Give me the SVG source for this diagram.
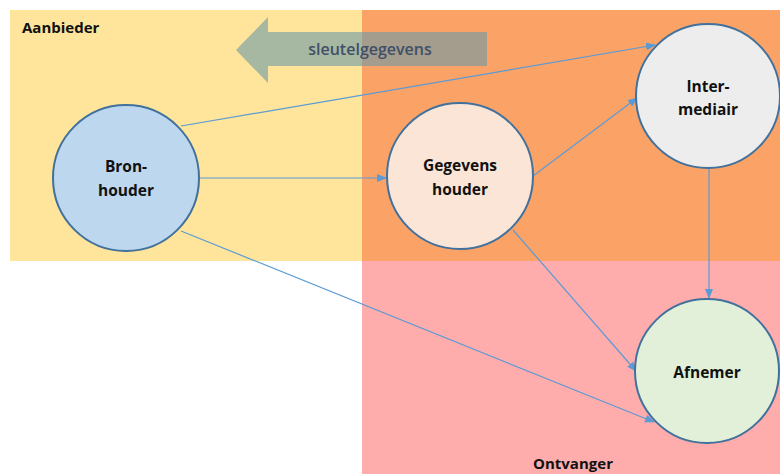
<svg xmlns="http://www.w3.org/2000/svg" width="780" height="474" viewBox="0 0 780 474">
<defs>
<marker id="ah" markerWidth="10" markerHeight="8" refX="9" refY="4" orient="auto" markerUnits="userSpaceOnUse">
<path d="M0,0 L10,4 L0,8 Z" fill="#5b9bd5"/>
</marker>
<style>
.node{stroke:#41719c;stroke-width:2}
.lbl{font-family:"Open Sans","Liberation Sans",sans-serif;font-weight:bold;font-size:15.5px;fill:#111;text-anchor:middle}
.conn{stroke:#5b9bd5;stroke-width:1.2;fill:none;marker-end:url(#ah)}
.zone{font-family:"Open Sans","Liberation Sans",sans-serif;font-weight:bold;font-size:15px;fill:#111}
</style>
</defs>
<rect width="780" height="474" fill="#ffffff"/>
<g id="zones">
<rect x="10" y="10" width="352" height="251" fill="#fee59b"/>
<rect x="362" y="10" width="418" height="251" fill="#fba267"/>
<rect x="362" y="261" width="418" height="213" fill="#feacac"/>
<text class="zone" x="22" y="33">Aanbieder</text>
<text class="zone" x="573" y="469" text-anchor="middle">Ontvanger</text>
</g>
<g id="sleutelgegevens">
<path d="M487,32 L268,32 L268,17 L236,50 L268,83 L268,66 L487,66 Z" fill="#6b98a6" fill-opacity="0.6"/>
<text x="370" y="55" text-anchor="middle" font-family="'Open Sans','Liberation Sans',sans-serif" font-size="16" font-weight="600" fill="#3f5068">sleutelgegevens</text>
</g>
<g id="connectors">
<line class="conn" x1="181" y1="126" x2="655" y2="45"/>
<line class="conn" x1="199" y1="178" x2="386" y2="178"/>
<line class="conn" x1="181" y1="231" x2="654" y2="422"/>
<line class="conn" x1="533" y1="176" x2="637" y2="98"/>
<line class="conn" x1="513" y1="230" x2="636" y2="371"/>
<line class="conn" x1="709" y1="168" x2="709" y2="298"/>
</g>
<g id="bronhouder">
<circle class="node" cx="126" cy="178" r="73" fill="#bdd7ee"/>
<text class="lbl" x="126" y="172">Bron-</text>
<text class="lbl" x="126" y="196">houder</text>
</g>
<g id="gegevenshouder">
<circle class="node" cx="460" cy="176" r="73" fill="#fbe5d6"/>
<text class="lbl" x="460" y="171">Gegevens</text>
<text class="lbl" x="460" y="195">houder</text>
</g>
<g id="intermediair">
<circle class="node" cx="708" cy="96" r="72" fill="#ededed"/>
<text class="lbl" x="708" y="92">Inter-</text>
<text class="lbl" x="708" y="115">mediair</text>
</g>
<g id="afnemer">
<circle class="node" cx="707" cy="371" r="72" fill="#e2f0d9"/>
<text class="lbl" x="707" y="378">Afnemer</text>
</g>
</svg>
